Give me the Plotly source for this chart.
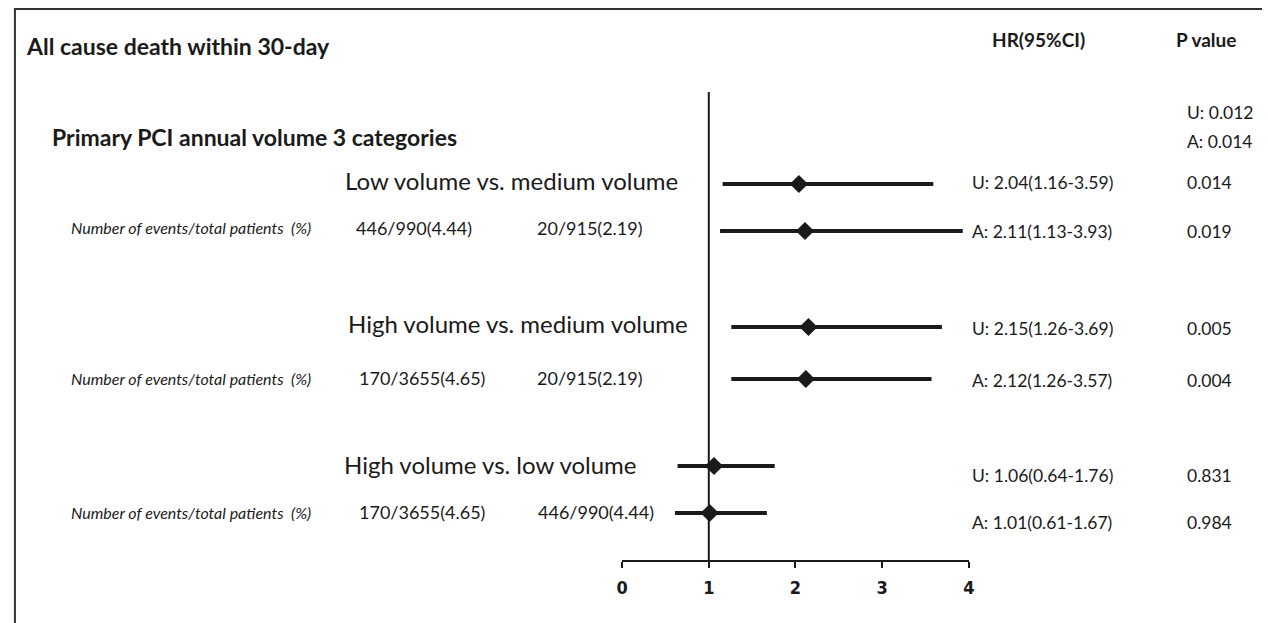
import plotly.graph_objects as go

# ---------------- data ----------------
title_text = "All cause death within 30-day"
section_text = "Primary PCI annual volume 3 categories"
comparisons = ["Low volume vs. medium volume",
               "High volume vs. medium volume",
               "High volume vs. low volume"]
count_label = "Number of events/total patients  (%)"
group1_counts = ["446/990(4.44)", "170/3655(4.65)", "170/3655(4.65)"]
group2_counts = ["20/915(2.19)", "20/915(2.19)", "446/990(4.44)"]

hr_u = [2.04, 2.15, 1.06]
lo_u = [1.16, 1.26, 0.64]
hi_u = [3.59, 3.69, 1.76]
hr_a = [2.11, 2.12, 1.01]
lo_a = [1.13, 1.26, 0.61]
hi_a = [3.93, 3.57, 1.67]
p_u = ["0.014", "0.005", "0.831"]
p_a = ["0.019", "0.004", "0.984"]
overall_p = ["U: 0.012", "A: 0.014"]
tick_vals = [0, 1, 2, 3, 4]

# ---------------- layout helpers ----------------
W, H = 1268, 623
X0_PX, UNIT_PX = 622, 87.5
AXIS_Y = 561
row_u = [184, 327, 466]
row_a = [231, 379, 513]
txt_u = [183, 328, 475]
txt_a = [231, 380, 522]
label_y = [181, 323, 464]
count_y = [228, 378, 512]
label_x = [510, 517, 489]
g1_x = [412, 420, 420]
g2_x = [590, 590, 596]

BODY = "Lato"
BLACK = "#1a1a1a"


def px(x):
    return x / W


def py(y):
    return 1 - y / H


fig = go.Figure()

# reference line at HR = 1
fig.add_trace(go.Scatter(x=[1, 1], y=[92, AXIS_Y], mode="lines",
                         line=dict(color=BLACK, width=2), hoverinfo="skip"))


def ci_trace(hr, lo, hi, ys):
    return go.Scatter(
        x=hr, y=ys, mode="markers",
        marker=dict(symbol="diamond", size=14, color=BLACK, line=dict(width=0)),
        error_x=dict(type="data", symmetric=False,
                     array=[h - m for h, m in zip(hi, hr)],
                     arrayminus=[m - l for m, l in zip(hr, lo)],
                     thickness=4, width=0, color=BLACK),
        hoverinfo="skip")


fig.add_trace(ci_trace(hr_u, lo_u, hi_u, row_u))
fig.add_trace(ci_trace(hr_a, lo_a, hi_a, row_a))

# invisible trace to create the tick axis subplot
fig.add_trace(go.Scatter(x=tick_vals, y=[AXIS_Y] * len(tick_vals), xaxis="x2", yaxis="y",
                         mode="markers", marker=dict(opacity=0), hoverinfo="skip"))

ann = []


def add_text(text, x, y, size, xanchor="center", bold=False, italic=False, font=BODY):
    ann.append(dict(text=text, x=px(x), y=py(y), xref="paper", yref="paper",
                    xanchor=xanchor, yanchor="middle", showarrow=False,
                    font=dict(family=font, size=size, color=BLACK,
                              weight="bold" if bold else "normal",
                              style="italic" if italic else "normal")))


add_text(title_text, 18, 46, 23, xanchor="left", bold=True)
add_text(section_text, 44, 137, 23, xanchor="left", bold=True)
add_text("HR(95%CI)", 1042, 40, 19, bold=True)
add_text("P value", 1211, 40, 19, bold=True)
add_text(overall_p[0], 1190, 113, 17.5, xanchor="left")
add_text(overall_p[1], 1190, 142, 17.5, xanchor="left")

for i in range(3):
    add_text(comparisons[i], label_x[i], label_y[i], 24)
    add_text(count_label, 187, count_y[i], 16, italic=True)
    add_text(group1_counts[i], g1_x[i], count_y[i], 18)
    add_text(group2_counts[i], g2_x[i], count_y[i], 18)
    add_text(f"U: {hr_u[i]:.2f}({lo_u[i]:.2f}-{hi_u[i]:.2f})", 973, txt_u[i], 17.5, xanchor="left")
    add_text(f"A: {hr_a[i]:.2f}({lo_a[i]:.2f}-{hi_a[i]:.2f})", 973, txt_a[i], 17.5, xanchor="left")
    add_text(p_u[i], 1190, txt_u[i], 17.5, xanchor="left")
    add_text(p_a[i], 1190, txt_a[i], 17.5, xanchor="left")

xmin = -X0_PX / UNIT_PX
xmax = (W - X0_PX) / UNIT_PX

fig.update_layout(
    width=W, height=H,
    margin=dict(l=0, r=0, t=0, b=0),
    paper_bgcolor="white", plot_bgcolor="rgba(0,0,0,0)",
    showlegend=False,
    xaxis=dict(domain=[0, 1], range=[xmin, xmax], visible=False),
    yaxis=dict(domain=[0, 1], range=[H, 0], visible=False),
    xaxis2=dict(domain=[px(X0_PX), px(X0_PX + 4 * UNIT_PX)], range=[0, 4],
                anchor="free", position=py(AXIS_Y), side="bottom",
                showline=True, linecolor=BLACK, linewidth=1.5,
                ticks="outside", ticklen=6, tickwidth=1.5, tickcolor=BLACK,
                ticklabelstandoff=5,
                tickvals=tick_vals, showgrid=False, zeroline=False,
                tickfont=dict(family="DejaVu Sans Condensed, Liberation Sans", size=18,
                              color=BLACK, weight="bold")),
    annotations=ann,
    shapes=[dict(type="path", xref="paper", yref="paper",
                 path=f"M {px(9)} 0 L {px(9)} {py(9)} L 1 {py(9)}",
                 line=dict(color="#333333", width=2))],
)

fig.write_html("out.html",
               config={"displayModeBar": False},
               post_script="document.body.style.margin='0';document.body.style.overflow='hidden';")
